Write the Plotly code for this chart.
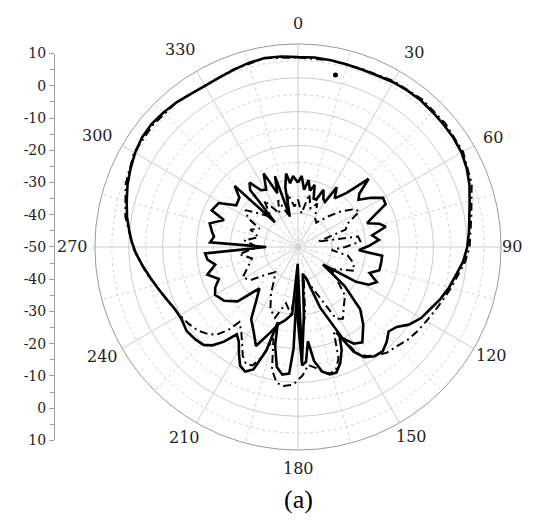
import math
import plotly.graph_objects as go

# ---------------- data (dB vs angle in degrees, clockwise from top) ----------------
co_solid_theta = [0, 5, 10, 15, 20, 25, 30, 35, 40, 45, 50, 55, 60, 65, 70, 75, 80, 85, 90,
                  95, 100, 105, 110, 115, 120, 125, 129, 133, 137, 141, 145, 149, 152, 155,
                  157, 160, 163, 166, 169, 172, 174, 176, 178, 180, 181, 182.5, 184, 187, 190,
                  193, 195, 197, 200, 203, 206, 209, 212, 215, 218, 221, 224, 228, 233, 238,
                  243, 248, 253, 258, 263, 268, 272, 276, 280, 285, 290, 295, 300, 305, 310,
                  315, 320, 325, 330, 335, 340, 345, 350, 355, 360]
co_solid_r = [6.1, 6.2, 6.0, 5.8, 5.7, 5.8, 6.2, 6.4, 6.5, 6.3, 6.2, 6.1, 5.8, 5.0, 3.9, 2.5, 1.4, 0.7, 0.0,
              -1.0, -2.6, -3.8, -5.2, -6.8, -8.0, -10.0, -12.5, -13.4, -11.6, -10.3, -10.6, -12.0, -15.0, -21.0,
              -17.0, -13.5, -11.2, -11.2, -12.5, -16.0, -22.0, -16.0, -15.0, -28.0, -40.0, -20.0, -12.5, -12.0, -14.0,
              -20.0, -27.0, -18.0, -11.5, -10.0, -11.0, -14.0, -17.0, -18.5, -14.5, -11.5, -9.8, -9.2, -8.8, -9.5,
              -9.3, -8.3, -7.0, -5.5, -3.8, -2.0, -0.8, 0.2, 1.3, 2.4, 3.6, 4.6, 5.6, 6.3, 6.5,
              6.2, 5.8, 5.2, 5.0, 5.2, 5.7, 6.3, 6.7, 6.5, 6.1]

co_dash_theta = [0, 10, 20, 30, 40, 50, 60, 70, 80, 90, 95, 100, 105, 110, 115, 120, 125, 130, 135,
                 140, 144, 148, 151, 154, 157, 160, 163, 166, 169, 172, 175, 178, 182, 186, 189,
                 192, 195, 198, 201, 204, 207, 210, 214, 218, 220, 223, 226, 230, 235, 240, 245,
                 250, 255, 260, 265, 270, 280, 290, 300, 310, 320, 330, 340, 350, 360]
co_dash_r = [6.0, 6.0, 5.9, 6.6, 7.0, 6.8, 6.3, 4.6, 2.0, 0.7, -0.4, -2.0, -3.2, -4.4, -5.4, -6.2, -6.8, -7.5, -8.6,
             -9.2, -10.5, -12.0, -14.0, -20.0, -23.0, -15.0, -11.8, -11.5, -12.5, -14.0, -15.0, -12.0, -9.3, -8.7, -9.4,
             -13.0, -22.0, -16.0, -12.5, -12.2, -14.0, -17.0, -20.0, -21.9, -18.0, -14.5, -13.0, -11.5, -10.5, -9.7, -8.8,
             -7.8, -6.5, -4.6, -3.0, -1.2, 1.8, 4.2, 5.9, 6.0, 5.8, 5.0, 5.8, 6.6, 6.0]

x_solid_theta = [0, 3, 6, 9, 12, 15, 18, 21, 24, 28, 31, 33, 37, 42, 46, 49, 52, 56, 60, 64, 68,
                 71, 74, 77, 81, 85, 89, 93, 96, 101, 106, 110, 114, 118, 121, 125, 130, 135, 140,
                 146, 150, 154, 160, 165, 170, 175, 178, 181, 185, 190, 194, 198, 203, 208, 213,
                 218, 223, 228, 234, 240, 244, 248, 253, 258, 262, 266, 270, 273, 277, 280, 285,
                 290, 293, 299, 304, 310, 314, 317, 320, 323, 327, 331, 335, 339, 342, 345, 348,
                 350.8, 353, 356, 360]
x_solid_r = [-31, -29, -33, -30, -33, -31, -35, -35, -31.5, -34, -34.5, -29, -32, -28.5, -21, -26, -27.3, -24, -21, -21.2, -26,
             -28.4, -25, -23.4, -27.8, -26, -29, -32, -25, -25, -25, -27.5, -24.5, -26.3, -30, -41, -32, -24, -20,
             -16, -17, -20, -31, -40, -42, -30, -16, -45, -30, -28, -26.6, -23.4, -18.2, -22, -24.6,
             -30, -33.3, -26, -23, -21.7, -22.8, -24.8, -22, -25, -23, -22.5, -40.6, -24, -25, -24.2, -23,
             -26.7, -22.3, -23.2, -28, -27.4, -24, -40, -28, -26.2, -30, -30.6, -26, -33, -28, -40.7, -32,
             -28, -31, -29, -31]

x_dash_theta = [0, 6, 12, 18, 24, 30, 37, 44, 50, 56, 60, 65, 70, 75, 80, 85, 90, 95, 100, 106, 113,
                118, 124, 130, 136, 142, 148, 152, 156, 162, 168, 174, 178, 181, 186, 192, 198, 204,
                210, 216, 222, 229, 235, 241, 248, 256, 263, 270, 277, 284, 290, 295.5, 300, 305,
                311, 318, 324, 331, 337, 343, 349, 355, 360]
x_dash_r = [-36, -40, -34, -38, -36, -40, -41, -37.6, -33.8, -30, -29, -34, -35, -44, -32, -31.5, -36, -40, -35, -33, -32,
            -36, -38, -35, -30, -28, -25, -26, -33, -38, -42, -30, -22, -40, -30, -33, -28, -30,
            -34, -38, -40, -37.6, -33, -31.3, -34, -36, -32.5, -38, -34, -38, -35, -37.4, -33, -31,
            -35, -38, -33, -38.7, -35, -40, -34, -38, -36]

stray_theta = [12.3]
stray_r = [2.0]

angle_ticks = [0, 30, 60, 90, 120, 150, 180, 210, 240, 270, 300, 330]
angle_labels = ["0", "30", "60", "90", "120", "150", "180", "210", "240", "270", "300", "330"]

scale_vals = [60, 50, 40, 30, 20, 10, 0, -10, -20, -30, -40, -50, -60]
scale_labels = ["10", "0", "-10", "-20", "-30", "-40", "-50", "-40", "-30", "-20", "-10", "0", "10"]

minor_angles = [15, 45, 75, 105, 135, 165, 195, 225, 255, 285, 315, 345]
minor_rings = [-45, -35, -25, -15, -5, 5]

# ---------------- figure ----------------
fig = go.Figure()

grid_minor = dict(color="#d2d2d2", width=1, dash="dot")
for a in minor_angles:
    fig.add_trace(go.Scatterpolar(theta=[a, a], r=[-50, 10], mode="lines", line=grid_minor,
                                  hoverinfo="skip", showlegend=False))
ring_theta = list(range(0, 361, 2))
for rr in minor_rings:
    fig.add_trace(go.Scatterpolar(theta=ring_theta, r=[rr] * len(ring_theta), mode="lines",
                                  line=grid_minor, hoverinfo="skip", showlegend=False))

dashdot = "8px,4px,2px,4px"
fig.add_trace(go.Scatterpolar(theta=x_dash_theta, r=x_dash_r, mode="lines",
                              line=dict(color="black", width=2, dash=dashdot), showlegend=False))
fig.add_trace(go.Scatterpolar(theta=x_solid_theta, r=x_solid_r, mode="lines",
                              line=dict(color="black", width=2.6), showlegend=False))
fig.add_trace(go.Scatterpolar(theta=co_dash_theta, r=co_dash_r, mode="lines",
                              line=dict(color="black", width=2, dash=dashdot), showlegend=False))
fig.add_trace(go.Scatterpolar(theta=co_solid_theta, r=co_solid_r, mode="lines",
                              line=dict(color="black", width=2.6), showlegend=False))
fig.add_trace(go.Scatterpolar(theta=stray_theta, r=stray_r, mode="markers",
                              marker=dict(color="black", size=5), showlegend=False))

# dummy cartesian trace so the left dB scale is drawn
fig.add_trace(go.Scatter(x=[0.5], y=[0], mode="markers", marker=dict(opacity=0),
                         hoverinfo="skip", showlegend=False))

W, H = 534, 525
cx, cy, R = 298, 246.5, 199.5
Rd = R * 199.5 / 190.0   # plotly shrinks the circle slightly inside its domain
px0, px1 = (cx - Rd) / W, (cx + Rd) / W
py0, py1 = 1 - (cy + Rd) / H, 1 - (cy - Rd) / H
sy0, sy1 = 1 - (cy + R) / H, 1 - (cy - R) / H

# angle labels: placed on a ring outside the rim (distance of label centre from the circle centre, px)
label_ring = [231, 232, 225, 214, 224, 226, 228, 227, 226, 226, 231, 235]
annotations = []
for a, t, lr in zip(angle_ticks, angle_labels, label_ring):
    ax = cx + lr * math.sin(math.radians(a))
    ay = cy - lr * math.cos(math.radians(a))
    annotations.append(dict(text=t, x=ax / W, y=1 - ay / H, xref="paper", yref="paper",
                            showarrow=False, xanchor="center", yanchor="middle",
                            font=dict(family="DejaVu Serif", size=16, color="#222222")))
annotations.append(dict(text="(a)", x=cx / W, y=1 - 507 / H, xref="paper", yref="paper",
                        showarrow=False, xanchor="center", yanchor="middle",
                        font=dict(family="Liberation Serif", size=26, color="black")))

fig.update_layout(
    width=W, height=H,
    margin=dict(l=0, r=0, t=0, b=0),
    paper_bgcolor="white", plot_bgcolor="white",
    showlegend=False,
    polar=dict(
        domain=dict(x=[px0, px1], y=[py0, py1]),
        bgcolor="white",
        radialaxis=dict(range=[-50, 10], tickmode="array", tickvals=[-40, -30, -20, -10, 0],
                        showticklabels=False, ticks="", showline=False,
                        gridcolor="#cccccc", gridwidth=1),
        angularaxis=dict(rotation=90, direction="clockwise", tickmode="array",
                         tickvals=angle_ticks, showticklabels=False, ticks="",
                         showline=True, linecolor="#9a9a9a", linewidth=1,
                         gridcolor="#cccccc", gridwidth=1),
    ),
    xaxis=dict(domain=[55 / W, 60 / W], range=[0, 1], visible=False, fixedrange=True),
    yaxis=dict(domain=[sy0, sy1], range=[-60, 60], anchor="x", side="left",
               showline=True, linecolor="#a0a0a0", linewidth=1,
               tickmode="array", tickvals=scale_vals, ticktext=scale_labels,
               ticks="outside", ticklen=5, tickcolor="#a0a0a0",
               showgrid=False, zeroline=False, fixedrange=True,
               tickfont=dict(family="DejaVu Serif", size=14, color="#222222"),
               minor=dict(tick0=0, dtick=5, ticks="outside", ticklen=4,
                          tickcolor="#a0a0a0", showgrid=False)),
    annotations=annotations,
)

fig.write_html("out.html")
